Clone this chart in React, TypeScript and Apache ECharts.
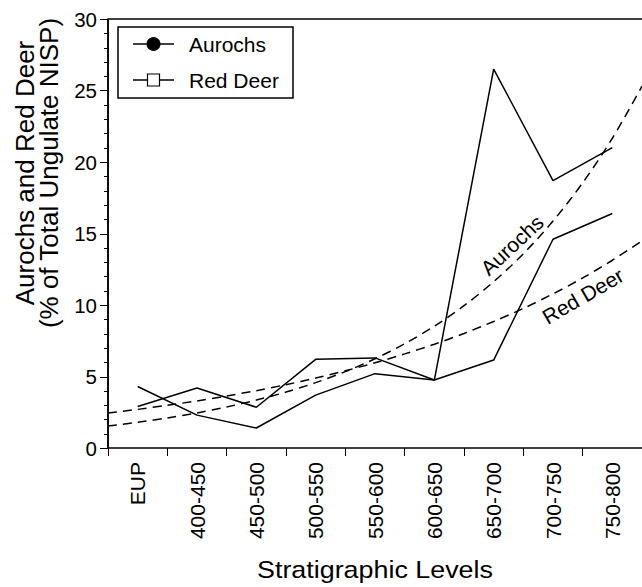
import React, { useEffect, useRef } from "react";
import * as echarts from "echarts";

const categories = ["EUP", "400-450", "450-500", "500-550", "550-600", "600-650", "650-700", "700-750", "750-800"];
const aurochs = [4.3, 2.3, 1.4, 3.7, 5.2, 4.75, 26.5, 18.7, 21.0];
const redDeer = [2.9, 4.2, 2.85, 6.2, 6.3, 4.75, 6.15, 14.6, 16.4];

// trend curves at half-category steps
const trendX = [-0.5, 0, 0.5, 1, 1.5, 2, 2.5, 3, 3.5, 4, 4.5, 5, 5.5, 6, 6.5, 7, 7.5, 8, 8.5];
const aurochsTrend = [1.54, 1.8, 2.1, 2.45, 2.87, 3.35, 3.91, 4.57, 5.34, 6.24, 7.29, 8.52, 9.95, 11.63, 13.58, 15.87, 18.54, 21.66, 25.3];
const redDeerTrend = [2.45, 2.7, 2.99, 3.29, 3.64, 4.01, 4.43, 4.89, 5.4, 5.96, 6.58, 7.26, 8.01, 8.85, 9.76, 10.78, 11.89, 13.13, 14.49];

const yTicks = { min: 0, max: 30, interval: 5, minorStep: 1 };

const FONT = "Liberation Sans, Arial, Helvetica, sans-serif";
const GRID = { left: 108, top: 19, width: 537, height: 429 };

export default function App() {
  const ref = useRef<HTMLDivElement>(null);
  useEffect(() => {
    document.body.style.margin = "0";
    const chart = echarts.init(ref.current!, null, { renderer: "svg" });
    const pair = (xs: number[], ys: number[]) => xs.map((x, i) => [x, ys[i]]);
    const gridBox = { ...GRID, show: false, containLabel: false };

    // tick marks of the y axis, placed at the axis' own tick values
    const yPx = (v: number) => GRID.top + GRID.height * (1 - (v - yTicks.min) / (yTicks.max - yTicks.min));
    const tickGraphics: any[] = [];
    for (let v = yTicks.min; v <= yTicks.max; v += yTicks.minorStep) {
      const py = Math.round(yPx(v)) + 0.5;
      const len = v % yTicks.interval === 0 ? 8 : 4;
      tickGraphics.push({
        type: "line",
        shape: { x1: GRID.left - len, y1: py, x2: GRID.left + 0.5, y2: py },
        style: { stroke: "#000", lineWidth: 1 },
        z: 100,
        zlevel: 0,
      });
    }

    const graphics: any[] = [
      ...tickGraphics,
      {
        type: "polyline",
        shape: { points: [[GRID.left, GRID.top + GRID.height], [GRID.left, GRID.top], [642, GRID.top]] },
        style: { stroke: "#000", lineWidth: 1.5, fill: "none" },
        z: 100,
      },
      {
        type: "rect",
        shape: { x: 118, y: 27, width: 175, height: 71 },
        style: { fill: "#fff", stroke: "#000", lineWidth: 1.5 },
        z: 110,
      },
      { type: "line", shape: { x1: 133, y1: 44, x2: 174, y2: 44 }, style: { stroke: "#000", lineWidth: 1.5 }, z: 111 },
      { type: "circle", shape: { cx: 153.5, cy: 44, r: 7 }, style: { fill: "#000" }, z: 112 },
      { type: "text", x: 189, y: 44, style: { text: "Aurochs", font: `21px ${FONT}`, fill: "#000", align: "left", verticalAlign: "middle" }, z: 112 },
      { type: "line", shape: { x1: 133, y1: 80, x2: 174, y2: 80 }, style: { stroke: "#000", lineWidth: 1.5 }, z: 111 },
      { type: "rect", shape: { x: 147.5, y: 74, width: 12, height: 12 }, style: { fill: "#fff", stroke: "#000", lineWidth: 1.2 }, z: 112 },
      { type: "text", x: 189, y: 80, style: { text: "Red Deer", font: `21px ${FONT}`, fill: "#000", align: "left", verticalAlign: "middle" }, z: 112 },
      {
        type: "text",
        x: 512,
        y: 245,
        rotation: (43 * Math.PI) / 180,
        style: { text: "Aurochs", font: `21px ${FONT}`, fill: "#000", align: "center", verticalAlign: "middle" },
        z: 112,
      },
      {
        type: "text",
        x: 583,
        y: 296,
        rotation: (30 * Math.PI) / 180,
        style: { text: "Red Deer", font: `21px ${FONT}`, fill: "#000", align: "center", verticalAlign: "middle" },
        z: 112,
      },
      {
        type: "text",
        x: 37,
        y: 173,
        rotation: Math.PI / 2,
        style: {
          text: "Aurochs and Red Deer\n(% of Total Ungulate NISP)",
          font: `26px ${FONT}`,
          lineHeight: 24,
          fill: "#000",
          align: "center",
          verticalAlign: "middle",
        },
      },
      {
        type: "text",
        x: 375,
        y: 570,
        scaleX: 1.12,
        style: { text: "Stratigraphic Levels", font: `24px ${FONT}`, fill: "#000", align: "center", verticalAlign: "middle" },
      },
    ];

    chart.setOption({
      animation: false,
      backgroundColor: "#fff",
      textStyle: { fontFamily: FONT, color: "#000" },
      grid: [gridBox, { ...gridBox }],
      xAxis: [
        {
          type: "category",
          gridIndex: 0,
          data: categories,
          boundaryGap: true,
          axisLine: { lineStyle: { color: "#000", width: 1.5 } },
          axisTick: { show: true, length: 8, lineStyle: { color: "#000", width: 1 } },
          axisLabel: { rotate: 90, fontSize: 21, color: "#000", fontFamily: FONT, margin: 14 },
          splitLine: { show: false },
        },
        {
          type: "value",
          gridIndex: 1,
          min: -0.5,
          max: 8.5,
          show: false,
        },
      ],
      yAxis: [
        {
          type: "value",
          gridIndex: 0,
          min: yTicks.min,
          max: yTicks.max,
          interval: yTicks.interval,
          axisLine: { show: false },
          axisTick: { show: false },
          axisLabel: { fontSize: 20.5, color: "#000", fontFamily: FONT, margin: 11 },
          splitLine: { show: false },
        },
        {
          type: "value",
          gridIndex: 1,
          min: yTicks.min,
          max: yTicks.max,
          show: false,
        },
      ],
      series: [
        {
          name: "Aurochs",
          type: "line",
          xAxisIndex: 0,
          yAxisIndex: 0,
          data: aurochs,
          showSymbol: false,
          symbol: "none",
          lineStyle: { color: "#000", width: 1.5 },
        },
        {
          name: "Red Deer",
          type: "line",
          xAxisIndex: 0,
          yAxisIndex: 0,
          data: redDeer,
          showSymbol: false,
          symbol: "none",
          lineStyle: { color: "#000", width: 1.5 },
        },
        {
          name: "Aurochs trend",
          type: "line",
          xAxisIndex: 1,
          yAxisIndex: 1,
          data: pair(trendX, aurochsTrend),
          smooth: 0.3,
          symbol: "none",
          lineStyle: { color: "#000", width: 1.5, type: [9, 6] },
        },
        {
          name: "Red Deer trend",
          type: "line",
          xAxisIndex: 1,
          yAxisIndex: 1,
          data: pair(trendX, redDeerTrend),
          smooth: 0.3,
          symbol: "none",
          lineStyle: { color: "#000", width: 1.5, type: [9, 6] },
        },
        {
          name: "y axis line",
          type: "line",
          xAxisIndex: 1,
          yAxisIndex: 1,
          data: [[-0.5, yTicks.min], [-0.5, yTicks.max]],
          clip: false,
          symbol: "none",
          silent: true,
          z: 50,
          lineStyle: { color: "#000", width: 1.5 },
        },
      ],
      graphic: graphics,
    });
    return () => chart.dispose();
  }, []);
  return <div ref={ref} style={{ width: 642, height: 587 }} />;
}
